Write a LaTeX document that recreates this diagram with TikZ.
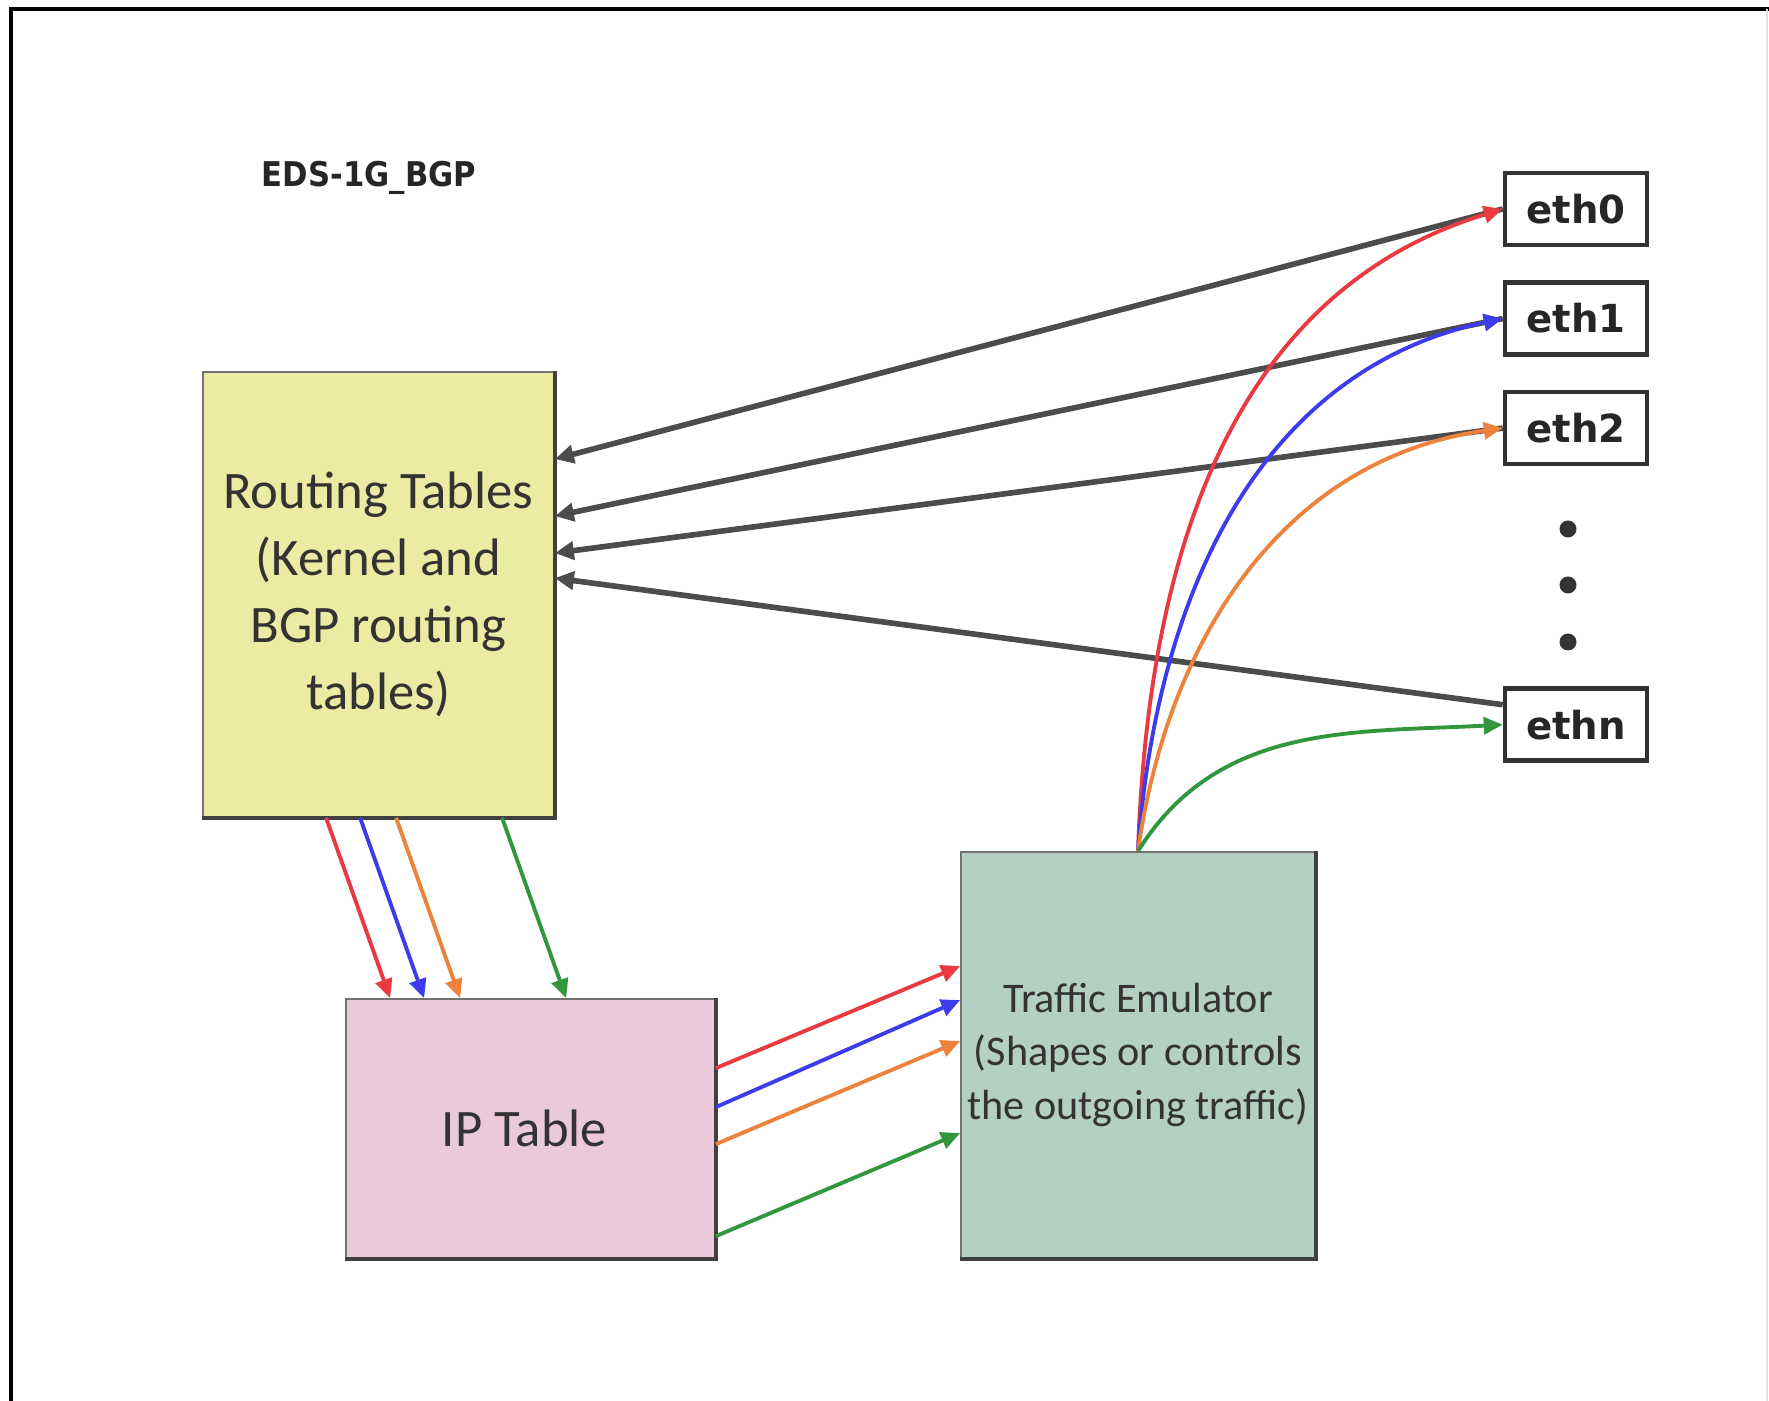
\documentclass[tikz,border=0pt]{standalone}
\usepackage{fontspec}
\setmainfont{Carlito}
\newfontfamily\ethfont{DejaVu Sans}
\newfontfamily\titlefont{DejaVu Sans Condensed}
\usetikzlibrary{arrows.meta, positioning, calc}

\definecolor{rtyellow}{RGB}{235,235,163}
\definecolor{ippink}{RGB}{234,201,218}
\definecolor{tegreen}{RGB}{180,208,194}
\definecolor{lred}{RGB}{232,58,64}
\definecolor{lblue}{RGB}{60,60,235}
\definecolor{lorange}{RGB}{237,130,60}
\definecolor{lgreen}{RGB}{50,150,60}

\begin{document}
\begin{tikzpicture}[
    every node/.style={align=center},
    tablebox/.style={rectangle, draw=black!55, line width=0.5pt, inner sep=0pt, text=black!80},
    ethbox/.style={rectangle, draw=black!80, line width=1.3pt, fill=white, minimum width=1.42cm, minimum height=0.72cm, inner sep=0pt, font=\ethfont\bfseries\fontsize{11}{13}\selectfont, text=black!85},
    vdot/.style={circle, fill=black!80, inner sep=0pt, minimum size=1.7mm},
    shade edge/.style={line width=1.3pt, black!75},
    graylink/.style={-{Triangle[length=1.9mm, width=1.8mm]}, line width=1.6pt, black!70},
    link/.style={-{Triangle[length=1.9mm, width=1.7mm]}, line width=1.1pt}
]
    \useasboundingbox (0,0) rectangle (17.69,14.01);

    % Frame
    \draw[line width=1.1pt] (0.11,0) -- (0.11,13.92) -- (17.69,13.92);
    \draw[black!12, line width=0.4pt] (17.67,13.92) -- (17.67,0);

    % Title
    \node[font=\titlefont\bfseries\fontsize{9.7}{11}\selectfont, text=black!85] (title) at (3.69,12.23) {EDS-1G\_BGP};

    % Tables
    \node[tablebox, fill=rtyellow, minimum width=3.51cm, minimum height=4.45cm, font=\fontsize{15}{19}\selectfont] (rt) at (3.785,8.065) {Routing Tables\\(Kernel and\\BGP routing\\tables)};
    \node[tablebox, fill=ippink, minimum width=3.69cm, minimum height=2.59cm, font=\fontsize{15}{18}\selectfont] (ip) at (5.305,2.725) {IP Table\hspace*{0.12cm}};
    \node[tablebox, fill=tegreen, minimum width=3.54cm, minimum height=4.06cm, font=\fontsize{12}{15.2}\selectfont] (te) at (11.38,3.46) {Traffic Emulator\\(Shapes or controls\\the outgoing traffic)};

    % Shadow edges
    \draw[shade edge] (rt.north east) -- (rt.south east) -- (rt.south west);
    \draw[shade edge] (ip.north east) -- (ip.south east) -- (ip.south west);
    \draw[shade edge] (te.north east) -- (te.south east) -- (te.south west);

    % Interfaces
    \node[ethbox] (eth0) at (15.76,11.92) {eth0};
    \node[ethbox, below=0.33cm of eth0] (eth1) {eth1};
    \node[ethbox, below=0.33cm of eth1] (eth2) {eth2};
    \node[ethbox, below=2.2cm of eth2] (ethn) {ethn};
    \node[vdot] (dot1) at (15.68,8.72) {};
    \node[vdot] (dot2) at (15.68,8.16) {};
    \node[vdot] (dot3) at (15.68,7.59) {};

    % Interfaces back to routing tables
    \draw[graylink] (eth0.west) -- ([yshift=-0.88cm]rt.north east);
    \draw[graylink] (eth1.west) -- ([yshift=-1.45cm]rt.north east);
    \draw[graylink] (eth2.west) -- ([yshift=-1.82cm]rt.north east);
    \draw[graylink] ([yshift=0.2cm]ethn.west) -- ([yshift=-2.07cm]rt.north east);

    % Routing tables to IP table
    \draw[link, lred] ([xshift=1.24cm]rt.south west) -- ([xshift=0.45cm]ip.north west);
    \draw[link, lblue] ([xshift=1.58cm]rt.south west) -- ([xshift=0.79cm]ip.north west);
    \draw[link, lorange] ([xshift=1.94cm]rt.south west) -- ([xshift=1.15cm]ip.north west);
    \draw[link, lgreen] ([xshift=3.00cm]rt.south west) -- ([xshift=2.21cm]ip.north west);

    % IP table to traffic emulator
    \draw[link, lred] ([yshift=-0.70cm]ip.north east) -- ([yshift=-1.15cm]te.north west);
    \draw[link, lblue] ([yshift=-1.09cm]ip.north east) -- ([yshift=-1.49cm]te.north west);
    \draw[link, lorange] ([yshift=-1.46cm]ip.north east) -- ([yshift=-1.90cm]te.north west);
    \draw[link, lgreen] ([yshift=-2.38cm]ip.north east) -- ([yshift=-2.82cm]te.north west);

    % Traffic emulator out to interfaces
    \draw[link, lred] (te.north) to[out=88, in=197] (eth0.west);
    \draw[link, lblue] (te.north) to[out=86, in=192] (eth1.west);
    \draw[link, lorange] (te.north) to[out=82, in=188] (eth2.west);
    \draw[link, lgreen] (te.north) to[out=58, in=183] (ethn.west);

\end{tikzpicture}
\end{document}
